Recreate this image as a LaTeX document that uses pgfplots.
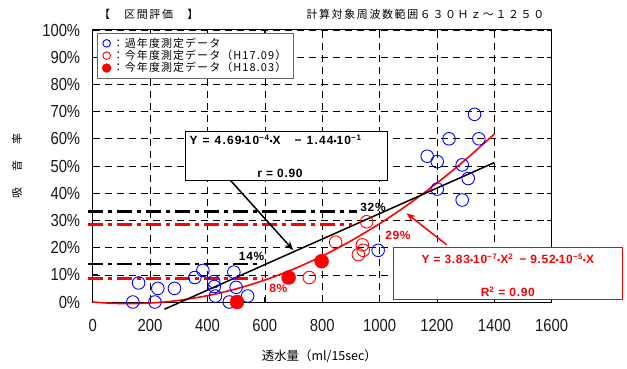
\documentclass[border=0pt]{standalone}
\usepackage{fontspec}
\setmainfont{Liberation Sans}
\newfontfamily\cjk{Noto Sans CJK JP}
\newfontfamily\cjkwide[LetterSpace=15]{Noto Sans CJK JP}
\newfontfamily\cjkleg[LetterSpace=10]{Noto Sans CJK JP}
\newfontfamily\narrow[FakeStretch=0.85]{Liberation Sans}
\newfontfamily\boldwide[LetterSpace=6]{Liberation Sans Bold}
\newfontfamily\boldwider[LetterSpace=10]{Liberation Sans Bold}
\usepackage{pgfplots}
\pgfplotsset{compat=1.18}
\usetikzlibrary{arrows.meta}
\definecolor{pblue}{RGB}{0,0,255}
\definecolor{pred}{RGB}{255,0,0}
\newcommand\md{\raisebox{0.05ex}{\scalebox{0.75}{\textbullet}}}
\pgfplotstableread{
x y
140 0
160 7
217 0
227 5
285 5
356 9
384 11.6
422 7.5
424 5.7
428 2.2
476 0
492 11
500 5.4
540 2.2
995 19
1331 69
1242 60
1346 60
1166 53.6
1201 51.6
1288 50.4
1309 45.4
1201 41.5
1288 37.5
}\pastdata
\pgfplotstableread{
x y
755 9
847 22
940 21
943 19
926 17.4
955 29.5
}\hseventeen
\pgfplotstableread{
x y
503 0
683 9
798 15
}\heighteen
\pgfplotstableread{
x y
0 0
50 -0.38
100 -0.57
150 -0.57
200 -0.37
250 0.01
300 0.59
400 2.32
500 4.82
600 8.08
700 12.10
800 16.90
900 22.46
1000 28.78
1100 35.87
1200 43.73
1300 52.35
1400 61.74
}\redfit
\begin{document}
\begin{tikzpicture}
\begin{axis}[name=ax,
  scale only axis, width=459bp, height=272bp,
  xmin=0, xmax=1600, ymin=0, ymax=100,
  xtick={0,200,...,1600}, ytick={0,10,...,100},
  xticklabels={0,200,400,600,800,1000,1200,1400,1600},
  yticklabels={0\%,10\%,20\%,30\%,40\%,50\%,60\%,70\%,80\%,90\%,100\%},
  tick label style={font=\narrow\fontsize{17.5}{18}\selectfont, text=black!90},
  xticklabel style={yshift=-14bp},
  yticklabel style={xshift=-9bp},
  grid=major,
  major grid style={black, line width=0.6bp, dash pattern=on 7bp off 5bp},
  tick align=inside, major tick length=5bp, tick style={black, line width=0.8bp},
  axis line style={black, line width=1bp},
  clip=false,
  legend cell align=left,
  legend style={at={(rel axis cs:0.0094,0.989)}, anchor=north west,
    draw=black!60, line width=0.9bp, fill=white,
    font=\cjkleg\fontsize{11}{12}\selectfont, inner xsep=5bp, inner ysep=2.5bp,
    row sep=-2.5bp},
]
\addplot[only marks, mark=o, mark size=6.3bp, pblue, mark options={line width=0.9bp},
  legend image post style={mark size=3.8bp}] table {\pastdata};
\addlegendentry{：過年度測定データ}
\addplot[only marks, mark=o, mark size=6.3bp, pred, mark options={line width=0.9bp},
  legend image post style={mark size=3.8bp}] table {\hseventeen};
\addlegendentry{：今年度測定データ（H17.09）}
\addplot[only marks, mark=*, mark size=7bp, pred, mark options={fill=pred},
  legend image post style={mark size=4.2bp}] table {\heighteen};
\addlegendentry{：今年度測定データ（H18.03）}

% fit curves
\addplot[forget plot, pred, line width=1.6bp, smooth] table {\redfit};
\addplot[forget plot, black, line width=1.5bp] coordinates {(250,-2.67) (1400,51.26)};

% dash-dot reference lines
\addplot[forget plot, black, line width=2.8bp, dash pattern=on 15bp off 5bp on 4bp off 5bp] coordinates {(-17,33.2) (920,33.2)};
\addplot[forget plot, pred, line width=2.8bp, dash pattern=on 15bp off 5bp on 4bp off 5bp] coordinates {(-17,28.4) (905,28.4)};
\addplot[forget plot, black, line width=2.8bp, dash pattern=on 15bp off 5bp on 4bp off 5bp] coordinates {(-17,14) (576,14)};
\addplot[forget plot, pred, line width=2.8bp, dash pattern=on 15bp off 5bp on 4bp off 5bp] coordinates {(-17,8.6) (590,8.6)};

% arrows
\addplot[forget plot, black, line width=1.5bp, -{Stealth[length=9bp,width=7bp]}] coordinates {(478.6,44.9) (699,19.1)};
\addplot[forget plot, pred, line width=1.5bp, -{Stealth[length=9bp,width=7bp]}] coordinates {(1234,21) (1094,32.6)};

% percentage labels
\node[font=\boldwide\fontsize{12}{12}\selectfont] at (axis cs:977,34.9) {32\%};
\node[font=\boldwide\fontsize{12}{12}\selectfont] at (axis cs:554,16.9) {14\%};
\node[font=\boldwide\fontsize{12}{12}\selectfont, text=pred] at (axis cs:1064,24.6) {29\%};
\node[font=\boldwide\fontsize{12}{12}\selectfont, text=pred] at (axis cs:647,5.0) {8\%};

% black equation box
\draw[black, line width=1bp, fill=white] (axis cs:322,44.8) rectangle (axis cs:1029,62.6);
\node[anchor=west, font=\boldwider\fontsize{12}{12}\selectfont] at (axis cs:326,59.6)
  {Y\hspace{5bp}=\hspace{5bp}4.69\md10\textsuperscript{−4}\md X\hspace{14bp}−\hspace{5bp}1.44\md10\textsuperscript{−1}};
\node[font=\boldwide\fontsize{12}{12}\selectfont] at (axis cs:653,47.4) {r = 0.90};

% red equation box
\draw[pred, line width=1bp, fill=white] (axis cs:1047,1.1) rectangle (axis cs:1848,20.2);
\node[font=\boldwide\fontsize{12}{12}\selectfont, text=pred] at (axis cs:1447,15.8)
  {Y = 3.83\md10\textsuperscript{−7}\md X\textsuperscript{2}\hspace{6bp}− 9.52\md10\textsuperscript{−5}\md X};
\node[font=\boldwide\fontsize{12}{12}\selectfont, text=pred] at (axis cs:1447,3.7) {R\textsuperscript{2} = 0.90};

% titles and labels
\node[anchor=west, font=\cjkwide\fontsize{11}{12}\selectfont] at (axis cs:10,105.6) {【　区間評価　】};
\node[anchor=west, font=\cjkwide\fontsize{11}{12}\selectfont] at (axis cs:733,105.6) {計算対象周波数範囲６３０Ｈｚ～１２５０};
\node[rotate=90, font=\cjk\fontsize{11}{12}\selectfont] at (axis cs:-264,50) {吸\hspace{16.5bp}音\hspace{16.5bp}率};
\node[font=\cjk\fontsize{12.5}{13}\selectfont] at (axis cs:790,-20) {透水量（ml/15sec）};
\end{axis}
\path (ax.south west) ++(-92.7bp,-67bp) coordinate (bl);
\path (ax.north east) ++(75.3bp,30bp) coordinate (tr);
\pgfresetboundingbox
\useasboundingbox (bl) rectangle (tr);
\end{tikzpicture}
\end{document}
